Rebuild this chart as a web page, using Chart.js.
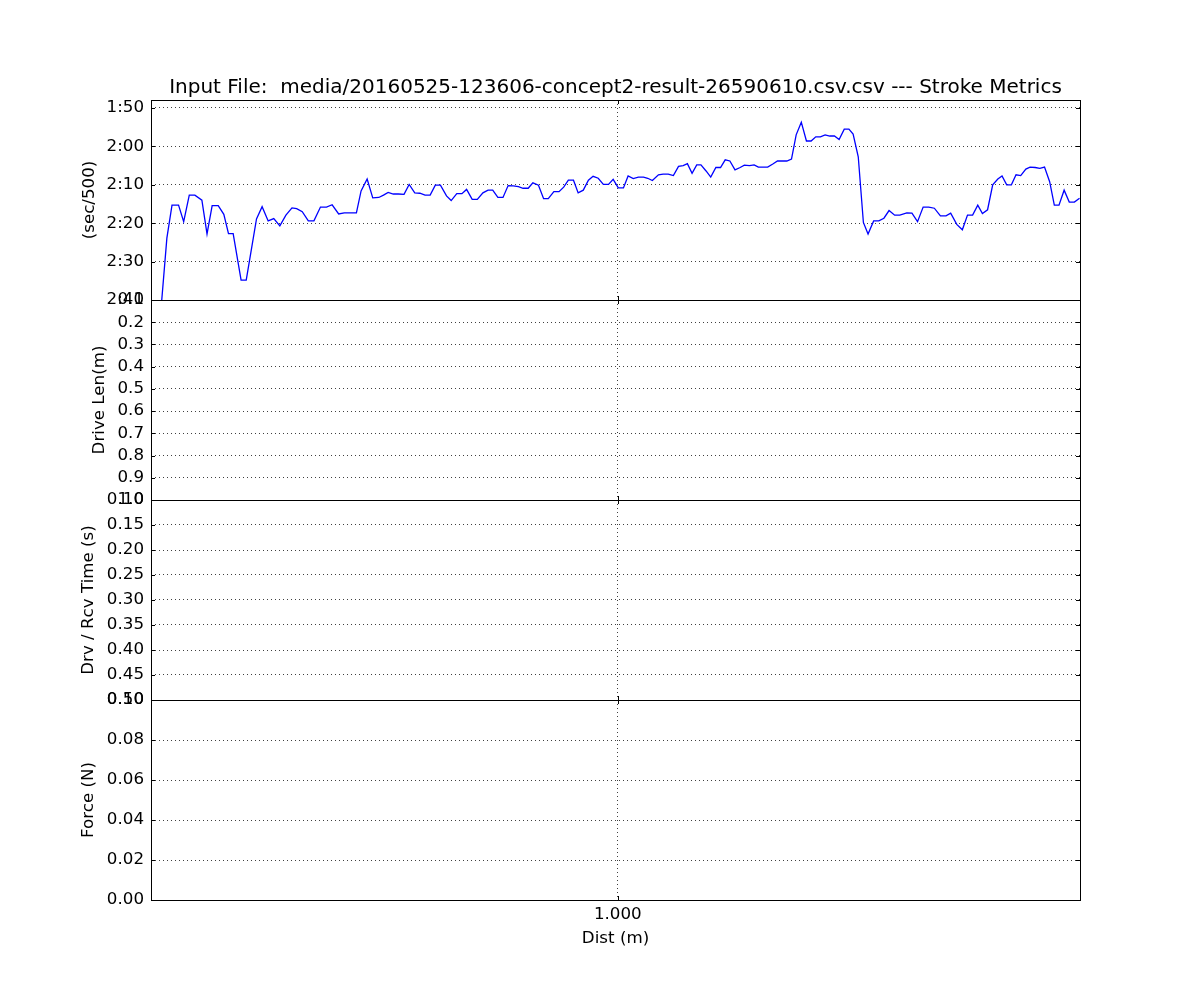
<!DOCTYPE html>
<html>
<head>
<meta charset="utf-8">
<script src="https://cdn.jsdelivr.net/npm/chart.js@4"></script>
<style>
  html, body { margin: 0; padding: 0; background: #fff; }
  #page { position: relative; width: 1200px; height: 1000px; }
  .panel { position: absolute; left: 31px; width: 1169px; }
</style>
</head>
<body>
<div id="page">
  <div class="panel" style="top:60px;height:258px"><canvas id="pace"></canvas></div>
  <div class="panel" style="top:282px;height:236px"><canvas id="driveLen"></canvas></div>
  <div class="panel" style="top:482px;height:236px"><canvas id="drvRcv"></canvas></div>
  <div class="panel" style="top:682px;height:277px"><canvas id="force"></canvas></div>
</div>
<script>
// distance along the piece (m) and pace per stroke (sec/500m)
const dist = [21, 34, 45, 59, 70, 82, 94, 109, 120, 131, 144, 156, 166, 176, 193, 204, 226, 238, 251, 263,
  276, 289, 302, 312, 324, 337, 349, 363, 376, 388, 402, 414, 426, 440, 450, 463, 475, 488, 498, 508,
  519, 530, 542, 553, 565, 576, 587, 598, 609, 620, 633, 643, 655, 666, 676, 688, 699, 711, 722, 732,
  743, 754, 765, 776, 787, 797, 808, 818, 830, 841, 851, 863, 874, 884, 894, 905, 915, 926, 937, 947,
  958, 969, 980, 990, 1001, 1012, 1022, 1033, 1044, 1055, 1064, 1074, 1087, 1097, 1108, 1119, 1130, 1140, 1149, 1159,
  1169, 1178, 1189, 1199, 1210, 1220, 1230, 1240, 1251, 1262, 1271, 1282, 1292, 1301, 1311, 1321, 1332, 1342, 1352, 1362,
  1372, 1382, 1393, 1404, 1414, 1424, 1434, 1444, 1454, 1464, 1474, 1485, 1495, 1504, 1515, 1526, 1536, 1548, 1559, 1570,
  1581, 1593, 1604, 1619, 1630, 1642, 1654, 1666, 1678, 1691, 1703, 1713, 1726, 1738, 1749, 1760, 1771, 1781, 1792, 1803,
  1814, 1823, 1833, 1843, 1853, 1863, 1874, 1883, 1894, 1904, 1914, 1925, 1935, 1945, 1956, 1967, 1978, 1989];
const pace = [163.0, 143.9, 135.3, 135.3, 139.6, 132.7, 132.7, 134.0, 142.8, 135.4, 135.4, 137.7, 142.7, 142.7, 154.8, 154.8, 138.9, 135.7, 139.4, 138.8,
  140.7, 137.9, 136.0, 136.2, 137.0, 139.4, 139.4, 135.8, 135.8, 135.2, 137.6, 137.3, 137.3, 137.3, 131.6, 128.5, 133.4, 133.3, 132.7, 132.0,
  132.4, 132.4, 132.5, 129.9, 132.1, 132.2, 132.7, 132.7, 130.1, 130.1, 132.9, 134.1, 132.3, 132.3, 131.2, 133.8, 133.8, 132.1, 131.4, 131.4,
  133.3, 133.3, 130.2, 130.3, 130.5, 130.9, 130.9, 129.5, 130.1, 133.6, 133.6, 131.8, 131.8, 130.6, 128.8, 128.8, 132.1, 131.4, 128.8, 127.8,
  128.3, 129.9, 129.9, 128.6, 130.8, 130.8, 127.7, 128.4, 128.0, 128.0, 128.3, 128.9, 127.4, 127.2, 127.2, 127.6, 125.2, 125.0, 124.5, 127.0,
  124.8, 124.8, 126.4, 128.0, 125.5, 125.5, 123.5, 123.8, 126.1, 125.5, 124.9, 125.0, 124.8, 125.4, 125.4, 125.4, 124.6, 123.8, 123.8, 123.8,
  123.3, 117.0, 113.7, 118.6, 118.6, 117.5, 117.5, 117.0, 117.3, 117.3, 118.2, 115.5, 115.5, 116.8, 122.7, 139.8, 142.8, 139.4, 139.4, 138.7,
  136.7, 137.9, 137.9, 137.3, 137.4, 139.6, 135.8, 135.8, 136.1, 138.1, 138.1, 137.4, 140.3, 141.7, 137.9, 137.9, 135.3, 137.5, 136.5, 130.0,
  128.5, 127.7, 130.0, 130.0, 127.4, 127.6, 125.9, 125.4, 125.5, 125.7, 125.4, 129.2, 135.3, 135.3, 131.4, 134.5, 134.5, 133.5];

// tick values for each panel
const distTicks = [1000];
const paceTicks = [110, 120, 130, 140, 150, 160];
const driveLenTicks = [0.1, 0.2, 0.3, 0.4, 0.5, 0.6, 0.7, 0.8, 0.9, 1.0];
const drvRcvTicks = [0.10, 0.15, 0.20, 0.25, 0.30, 0.35, 0.40, 0.45, 0.50];
const forceTicks = [0.00, 0.02, 0.04, 0.06, 0.08, 0.10];

Chart.defaults.font.family = "'DejaVu Sans', sans-serif";
Chart.defaults.font.size = 16.7;
Chart.defaults.color = "#000";

// matplotlib-ish frame with inward ticks
const frame = {
  id: "frame",
  afterDraw(chart) {
    const {ctx, chartArea: a, scales} = chart;
    ctx.save();
    ctx.strokeStyle = "#000";
    ctx.lineWidth = 1;
    ctx.strokeRect(Math.round(a.left) + 0.5, Math.round(a.top) + 0.5, Math.round(a.right - a.left), Math.round(a.bottom - a.top));
    ctx.beginPath();
    scales.y.ticks.forEach(t => {
      const y = Math.round(scales.y.getPixelForValue(t.value)) + 0.5;
      ctx.moveTo(a.left, y); ctx.lineTo(a.left + 4, y);
      ctx.moveTo(a.right, y); ctx.lineTo(a.right - 4, y);
    });
    scales.x.ticks.forEach(t => {
      const x = Math.round(scales.x.getPixelForValue(t.value)) + 0.5;
      ctx.moveTo(x, a.top); ctx.lineTo(x, a.top + 4);
      ctx.moveTo(x, a.bottom); ctx.lineTo(x, a.bottom - 4);
    });
    ctx.stroke();
    ctx.restore();
  }
};

function mmss(v) {
  const m = Math.floor(v / 60), s = Math.round(v - m * 60);
  return m + ":" + (s < 10 ? "0" : "") + s;
}

function makePanel(id, opt) {
  const bottom = !!opt.bottom;
  new Chart(id, {
    type: "line",
    data: {datasets: opt.datasets || []},
    options: {
      responsive: true,
      maintainAspectRatio: false,
      animation: false,
      layout: {padding: {left: opt.padLeft, right: 120, top: opt.padTop, bottom: bottom ? 10 : 18}},
      plugins: {
        legend: {display: false},
        tooltip: {enabled: false},
        title: opt.title ? {display: true, fullSize: false, text: opt.title, font: {size: 20, weight: "normal"}, padding: {top: 16, bottom: 0}} : {display: false}
      },
      scales: {
        x: {
          type: "linear", min: 0, max: 1990,
          afterBuildTicks: s => { s.ticks = distTicks.map(v => ({value: v})); },
          afterFit: s => { s.height = bottom ? 49 : 0; },
          grid: {color: "rgba(0,0,0,0.75)", lineWidth: 1, drawTicks: false},
          border: {display: false, dash: [1, 3]},
          ticks: {display: bottom, padding: 5, callback: v => (v / 1000).toFixed(3)},
          title: {display: bottom, text: "Dist (m)", padding: 0}
        },
        y: {
          min: opt.min, max: opt.max, reverse: !!opt.reverse,
          afterBuildTicks: s => { s.ticks = opt.ticks.map(v => ({value: v})); },
          afterFit: s => { s.width = 120 - opt.padLeft; },
          grid: {color: "rgba(0,0,0,0.75)", lineWidth: 1, drawTicks: false},
          border: {display: false, dash: [1, 3]},
          ticks: {padding: 7, autoSkip: false, callback: opt.fmt},
          title: {display: true, text: opt.label, padding: 0}
        }
      }
    },
    plugins: [frame]
  });
}

makePanel("pace", {
  title: "Input File:  media/20160525-123606-concept2-result-26590610.csv.csv --- Stroke Metrics",
  padTop: 0, padLeft: 49, min: 107.92, max: 160, reverse: true, ticks: paceTicks, fmt: mmss, label: "(sec/500)",
  datasets: [{
    data: dist.map((d, i) => ({x: d, y: pace[i]})),
    borderColor: "#0000ff", borderWidth: 1.3, pointRadius: 0, tension: 0, fill: false
  }]
});
makePanel("driveLen", {padTop: 18, padLeft: 59, min: 0.1, max: 1.0, reverse: true, ticks: driveLenTicks,
  fmt: v => v.toFixed(1), label: "Drive Len(m)"});
makePanel("drvRcv", {padTop: 18, padLeft: 48, min: 0.10, max: 0.50, reverse: true, ticks: drvRcvTicks,
  fmt: v => v.toFixed(2), label: "Drv / Rcv Time (s)"});
makePanel("force", {padTop: 18, padLeft: 48, min: 0, max: 0.10, ticks: forceTicks,
  fmt: v => v.toFixed(2), label: "Force (N)", bottom: true});
</script>
</body>
</html>
